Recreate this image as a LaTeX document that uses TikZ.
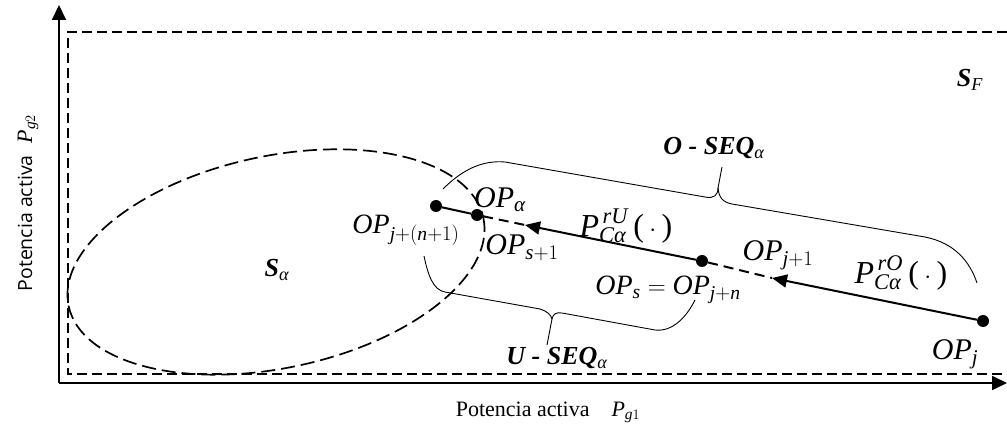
\documentclass[tikz,border=0pt]{standalone}
\usepackage{amsmath}
\usepackage{fontspec}
\setmainfont{Liberation Serif}
\setsansfont{Open Sans}
\usepackage{tikz}
\usetikzlibrary{arrows.meta, positioning}

\newcommand{\vi}[1]{\textit{#1}}
\newcommand{\vb}[1]{\textbf{\textit{#1}}}

\begin{document}
\begin{tikzpicture}[
  x=1pt, y=-1pt,
  axis/.style={line width=1.8pt, -{Triangle[length=15pt,width=14pt]}},
  region/.style={line width=1.4pt, dash pattern=on 10pt off 5pt},
  seq/.style={line width=2pt},
  seqd/.style={line width=2pt, dash pattern=on 10pt off 6pt},
  arr/.style={seq, -{Triangle[length=15pt,width=13pt]}},
  pt/.style={circle, fill, inner sep=0pt, minimum size=12pt},
  brc/.style={line width=0.9pt},
  lbl/.style={inner sep=0pt, font=\fontsize{30}{36}\selectfont},
  plbl/.style={inner sep=0pt, font=\fontsize{32}{38}\selectfont},
  setlbl/.style={inner sep=0pt, font=\fontsize{26}{30}\selectfont},
  axlbl/.style={inner sep=0pt, font=\fontsize{22}{26}\selectfont}
]
  \useasboundingbox (0,0) rectangle (1007,438);

  % axes and regions
  \coordinate (o) at (59,383);
  \coordinate (ytop) at (59,5);
  \coordinate (xend) at (1007,383);
  \draw[axis] (o) -- (ytop);
  \draw[axis] (o) -- (xend);
  \draw[region] (1007,32) -- (68,32) -- (68,374) -- (1007,374);
  \draw[region, line width=1.7pt, dash pattern=on 14pt off 6pt, rotate around={12:(276,262)}]
    (276,262) ellipse [x radius=212, y radius=106];

  % operating points
  \node[pt] (opn) at (436,206) {};
  \node[pt] (opa) at (477,215) {};
  \node[pt] (ops) at (702,261) {};
  \node[pt] (opj) at (983,321) {};
  \coordinate (tipu) at (525,225);
  \coordinate (tipo) at (772,278);

  \draw[seq] (opn) -- (opa);
  \draw[seqd] (opa) -- (tipu);
  \draw[arr] (ops) -- (tipu);
  \draw[seqd] (ops) -- (tipo);
  \draw[arr] (opj) -- (tipo);

  % braces
  \draw[brc] (443,189) .. controls (462,170) and (482,160) .. (505,162)
    -- (705,197) .. controls (714,199) and (718,195) .. (718,188) -- (722,167);
  \draw[brc] (718,188) .. controls (719,197) and (722,202) .. (732,204)
    -- (925,237) .. controls (955,243) and (970,262) .. (977,283);
  \draw[brc] (424,256) .. controls (428,275) and (433,290) .. (445,292)
    -- (540,309) .. controls (547,311) and (551,315) .. (552,319) -- (547,345);
  \draw[brc] (552,319) .. controls (553,314) and (556,312) .. (562,313)
    -- (655,330) .. controls (672,332) and (686,318) .. (695,300);

  % labels
  \node[lbl, font=\fontsize{28}{34}\selectfont] (lopn) at (406,230) {$\vi{OP}_{\vi{j}+(\vi{n}+1)}$};
  \node[lbl] (lopa) at (500,200) {$\vi{OP}_{\vi{α}}$};
  \node[lbl] (lops1) at (522,248) {$\vi{OP}_{\vi{s}+1}$};
  \node[plbl] (lpu) at (626,226) {$\vi{P}^{\,\vi{rU}}_{\vi{Cα}}$\,(\,$\cdot$\,)};
  \node[lbl, font=\fontsize{28}{34}\selectfont] (lops) at (668,290) {$\vi{OP}_{\vi{s}}=\vi{OP}_{\vi{j}+\vi{n}}$};
  \node[lbl] (lopj1) at (778,255) {$\vi{OP}_{\vi{j}+1}$};
  \node[plbl] (lpo) at (901,273) {$\vi{P}^{\,\vi{rO}}_{\vi{Cα}}$\,(\,$\cdot$\,)};
  \node[lbl] (lopj) at (955,354) {$\vi{OP}_{\vi{j}}$};
  \node[setlbl] (lsa) at (277,270) {\vb{S}$_{\vi{α}}$};
  \node[setlbl] (lsf) at (970,80) {\vb{S}$_{\vi{F}}$};
  \node[setlbl] (lo) at (714,148) {\vb{O - SEQ}$_{\vi{α}}$};
  \node[setlbl] (lu) at (557,358) {\vb{U - SEQ}$_{\vi{α}}$};
  \node[axlbl] (xlab) at (548,412) {Potencia activa\quad $\vi{P}_{\vi{g}1}$};
  \node[axlbl, font=\fontsize{19.5}{24}\selectfont, rotate=90] (ylab) at (28,203)
    {\sffamily Potencia activa\hspace{12pt}\rmfamily\fontsize{22}{24}\selectfont$\vi{P}_{\vi{g}2}$};
\end{tikzpicture}
\end{document}
